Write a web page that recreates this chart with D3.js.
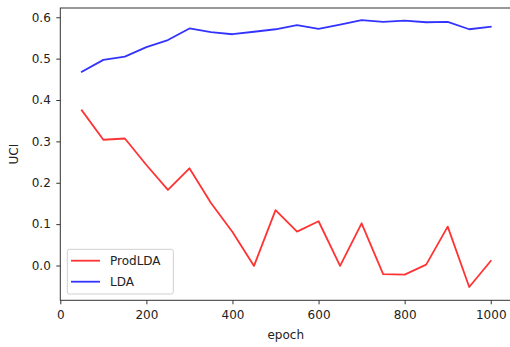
<!DOCTYPE html>
<html><head><meta charset="utf-8">
<script src="https://cdn.jsdelivr.net/npm/d3@7"></script>
<style>body{margin:0;background:#fff}svg{display:block}text{font-family:"DejaVu Sans",sans-serif}</style>
</head><body><svg id="c" width="510" height="347"></svg>
<script>
const epochs = [50,100,150,200,250,300,350,400,450,500,550,600,650,700,750,800,850,900,950,1000];
const prodLDA = [0.375,0.304,0.307,0.243,0.183,0.235,0.151,0.081,-0.001,0.134,0.082,0.107,-0.001,0.102,-0.021,-0.022,0.002,0.094,-0.052,0.011];
const lda = [0.468,0.497,0.505,0.528,0.545,0.573,0.564,0.559,0.565,0.571,0.581,0.572,0.582,0.593,0.589,0.592,0.588,0.589,0.571,0.577];
const xTicks = [0,200,400,600,800,1000];
const yTicks = [0.0,0.1,0.2,0.3,0.4,0.5,0.6];
const seriesNames = ["ProdLDA","LDA"];
const colors = ["rgba(255,0,0,0.8)","rgba(0,0,255,0.8)"];

const svg = d3.select("#c");
const L=60.3, R=511.2, T=8, B=300.3;
const FS = 12;
const x = d3.scaleLinear().domain([0,1047.5]).range([L,R]);
const y = d3.scaleLinear().domain([-0.0841,0.6224]).range([B,T]);

const line = d3.line().x((d,i)=>x(epochs[i])).y(d=>y(d));
[prodLDA, lda].forEach((s,k)=>{
  svg.append("path").attr("d",line(s)).attr("fill","none")
    .attr("stroke",colors[k]).attr("stroke-width",1.8).attr("stroke-linejoin","round").attr("stroke-linecap","square");
});

// spines
svg.append("rect").attr("x",L).attr("y",T).attr("width",R-L).attr("height",B-T)
  .attr("fill","none").attr("stroke","#333").attr("stroke-width",1);

const xa = svg.append("g").attr("transform",`translate(0,${B})`)
  .call(d3.axisBottom(x).tickValues(xTicks).tickFormat(d3.format("d")).tickSize(4).tickPadding(6.5));
const ya = svg.append("g").attr("transform",`translate(${L},0)`)
  .call(d3.axisLeft(y).tickValues(yTicks).tickFormat(d3.format(".1f")).tickSize(4).tickPadding(5.5));
[xa,ya].forEach(a=>{
  a.select(".domain").remove();
  a.selectAll("line").attr("stroke","#333").attr("stroke-width",1);
  a.selectAll("text").attr("font-size",FS).attr("fill","#222").style("font-family","DejaVu Sans");
});

svg.append("text").attr("x",(L+R)/2).attr("y",338.5).attr("text-anchor","middle")
  .attr("font-size",FS).attr("fill","#222").text("epoch");
svg.append("text").attr("transform",`translate(18,${(T+B)/2}) rotate(-90)`).attr("text-anchor","middle")
  .attr("font-size",FS).attr("fill","#222").text("UCI");

// legend
const lg = svg.append("g");
lg.append("rect").attr("x",67.3).attr("y",249.3).attr("width",106).attr("height",44.7).attr("rx",2)
  .attr("fill","rgba(255,255,255,0.8)").attr("stroke","#d0d0d0").attr("stroke-width",1);
seriesNames.forEach((n,k)=>{
  const yy = 260.7 + k*21;
  lg.append("line").attr("x1",71).attr("x2",100).attr("y1",yy).attr("y2",yy)
    .attr("stroke",colors[k]).attr("stroke-width",1.8);
  lg.append("text").attr("x",110).attr("y",yy).attr("dy","0.36em").attr("font-size",FS).attr("fill","#222").text(n);
});
</script></body></html>
